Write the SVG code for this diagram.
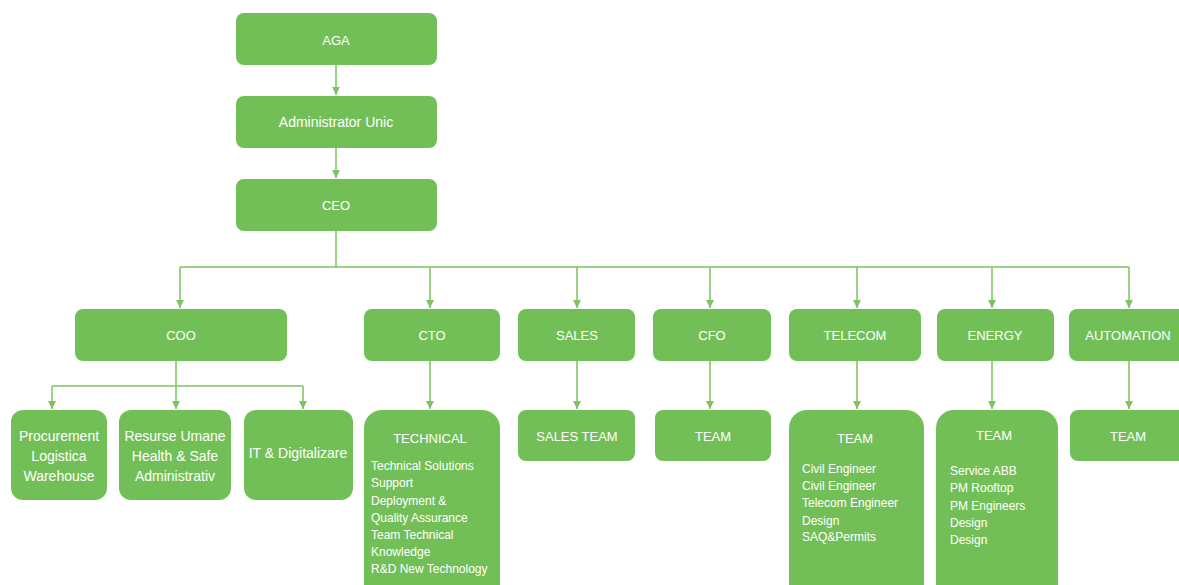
<svg xmlns="http://www.w3.org/2000/svg" width="1179" height="585" viewBox="0 0 1179 585">
<style>
.box{fill:#72bf58}
.t{fill:#ffffff;font-family:"Liberation Sans",Arial,sans-serif;font-size:13px;text-anchor:middle}
.tl{fill:#ffffff;font-family:"Liberation Sans",Arial,sans-serif;font-size:12px}
.tm{fill:#ffffff;font-family:"Liberation Sans",Arial,sans-serif;font-size:14px;text-anchor:middle}
.c{fill:none;stroke:#7cc462;stroke-width:1.5}
.ah{fill:#7cc462}
</style>
<rect width="1179" height="585" fill="#ffffff"/>
<g id="connectors">
<path class="c" d="M336,65 V95 M336,148 V178"/>
<path class="c" d="M336,231 V267 M180,267 H1129 M180,267 V308 M430,267 V308 M577,267 V308 M710,267 V308 M857,267 V308 M992,267 V308 M1129,267 V308"/>
<path class="c" d="M176,361 V409 M52,386 H303 M52,386 V409 M303,386 V409 M430,361 V409 M577,361 V409 M710,361 V409 M857,361 V409 M992,361 V409 M1129,361 V409"/>
<g class="ah">
<path d="M332,87 h8 l-4,8 z"/>
<path d="M332,170 h8 l-4,8 z"/>
<path d="M176,300 h8 l-4,8 z"/>
<path d="M426,300 h8 l-4,8 z"/>
<path d="M573,300 h8 l-4,8 z"/>
<path d="M706,300 h8 l-4,8 z"/>
<path d="M853,300 h8 l-4,8 z"/>
<path d="M988,300 h8 l-4,8 z"/>
<path d="M1125,300 h8 l-4,8 z"/>
<path d="M48,401 h8 l-4,8 z"/>
<path d="M172,401 h8 l-4,8 z"/>
<path d="M299,401 h8 l-4,8 z"/>
<path d="M426,401 h8 l-4,8 z"/>
<path d="M573,401 h8 l-4,8 z"/>
<path d="M706,401 h8 l-4,8 z"/>
<path d="M853,401 h8 l-4,8 z"/>
<path d="M988,401 h8 l-4,8 z"/>
<path d="M1125,401 h8 l-4,8 z"/>
</g>
</g>
<g id="aga"><rect class="box" x="236" y="13" width="201" height="52" rx="8"/><text class="t" x="336" y="45">AGA</text></g>
<g id="admin"><rect class="box" x="236" y="96" width="201" height="52" rx="8"/><text class="tm" x="336" y="127">Administrator Unic</text></g>
<g id="ceo"><rect class="box" x="236" y="179" width="201" height="52" rx="8"/><text class="t" x="336" y="210">CEO</text></g>
<g id="coo"><rect class="box" x="75" y="309" width="212" height="52" rx="8"/><text class="t" x="181" y="340">COO</text></g>
<g id="cto"><rect class="box" x="364" y="309" width="136" height="52" rx="8"/><text class="t" x="432" y="340">CTO</text></g>
<g id="sales"><rect class="box" x="518" y="309" width="117" height="52" rx="8"/><text class="t" x="577" y="340">SALES</text></g>
<g id="cfo"><rect class="box" x="653" y="309" width="118" height="52" rx="8"/><text class="t" x="712" y="340">CFO</text></g>
<g id="telecom"><rect class="box" x="789" y="309" width="132" height="52" rx="8"/><text class="t" x="855" y="340">TELECOM</text></g>
<g id="energy"><rect class="box" x="937" y="309" width="117" height="52" rx="8"/><text class="t" x="995" y="340">ENERGY</text></g>
<g id="automation"><rect class="box" x="1069" y="309" width="118" height="52" rx="8"/><text class="t" x="1128" y="340">AUTOMATION</text></g>
<g id="procurement"><rect class="box" x="11" y="410" width="96" height="90" rx="12"/>
<text class="tm" x="59" y="441">Procurement</text><text class="tm" x="59" y="461">Logistica</text><text class="tm" x="59" y="481">Warehouse</text></g>
<g id="resurse"><rect class="box" x="119" y="410" width="112" height="90" rx="12"/>
<text class="tm" x="175" y="441">Resurse Umane</text><text class="tm" x="175" y="461">Health &amp; Safe</text><text class="tm" x="175" y="481">Administrativ</text></g>
<g id="it"><rect class="box" x="244" y="410" width="109" height="90" rx="12"/>
<text class="tm" x="298" y="458">IT &amp; Digitalizare</text></g>
<g id="technical"><rect class="box" x="364" y="410" width="136" height="195" rx="18"/>
<text class="t" x="430" y="443">TECHNICAL</text>
<text class="tl" x="371" y="470">Technical Solutions</text>
<text class="tl" x="371" y="487">Support</text>
<text class="tl" x="371" y="505">Deployment &amp;</text>
<text class="tl" x="371" y="522">Quality Assurance</text>
<text class="tl" x="371" y="539">Team Technical</text>
<text class="tl" x="371" y="556">Knowledge</text>
<text class="tl" x="371" y="573">R&amp;D New Technology</text></g>
<g id="salesteam"><rect class="box" x="518" y="410" width="117" height="51" rx="8"/><text class="t" x="577" y="441">SALES TEAM</text></g>
<g id="cfoteam"><rect class="box" x="655" y="410" width="116" height="51" rx="8"/><text class="t" x="713" y="441">TEAM</text></g>
<g id="telecomteam"><rect class="box" x="789" y="410" width="135" height="195" rx="18"/>
<text class="t" x="855" y="443">TEAM</text>
<text class="tl" x="802" y="473">Civil Engineer</text>
<text class="tl" x="802" y="490">Civil Engineer</text>
<text class="tl" x="802" y="507">Telecom Engineer</text>
<text class="tl" x="802" y="525">Design</text>
<text class="tl" x="802" y="541">SAQ&amp;Permits</text></g>
<g id="energyteam"><rect class="box" x="936" y="410" width="122" height="195" rx="18"/>
<text class="t" x="994" y="440">TEAM</text>
<text class="tl" x="950" y="475">Service ABB</text>
<text class="tl" x="950" y="492">PM Rooftop</text>
<text class="tl" x="950" y="510">PM Engineers</text>
<text class="tl" x="950" y="527">Design</text>
<text class="tl" x="950" y="544">Design</text></g>
<g id="automationteam"><rect class="box" x="1070" y="410" width="117" height="51" rx="8"/><text class="t" x="1128" y="441">TEAM</text></g>
</svg>
